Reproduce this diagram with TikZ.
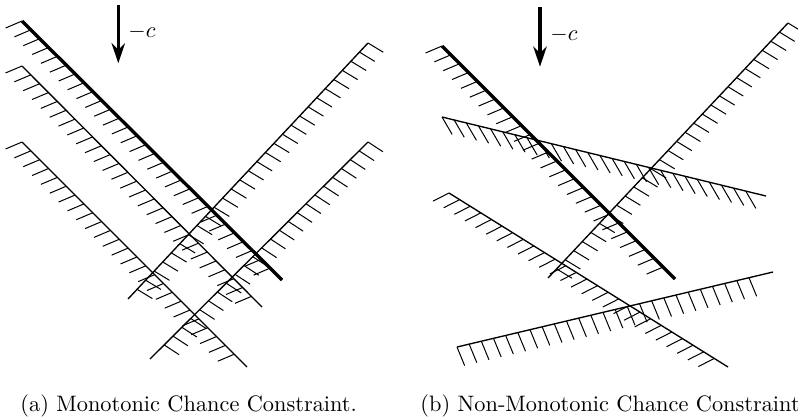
\documentclass[tikz,border=0pt]{standalone}
\usetikzlibrary{arrows.meta,decorations.pathreplacing}
\newcommand{\tkgap}{5.6pt}   % spacing of the hatch ticks along a bound

\begin{document}
\begin{tikzpicture}[x=0.4478pt, y=-0.4478pt,
  bnd/.style={line width=0.6pt},
  objline/.style={line width=1.5pt},
  hatch/.style 2 args={postaction={draw, line width=0.45pt, decorate,
      decoration={border, segment length=\tkgap, amplitude=#2, angle=#1}}},
  costdir/.style={line width=1.5pt, -{Stealth[length=9pt, width=6pt]}},
  lbl/.style={inner sep=0pt, anchor=base west},
  capt/.style={inner sep=0pt, anchor=base west}]
\useasboundingbox (0,0) rectangle (798,419);

% ================================================================== (a) monotonic
% parallel bounds hatched below-left, crossing bounds hatched below-right
\draw[bnd, hatch={-112}{8pt}] (22,66) -- (262,307);
\draw[bnd, hatch={-112}{8pt}] (22,142) -- (247,367);
\draw[bnd, hatch={102}{8pt}] (368,43) -- (128,299);
\draw[bnd, hatch={102}{8pt}] (368,142) -- (150,359);
% objective level line
\draw[objline, hatch={-112}{8pt}] (22,21) -- (282,280);
\coordinate (ca0) at (118.3,5);
\coordinate (ca1) at (118.3,63.3);
\draw[costdir] (ca0) -- (ca1);
\node[lbl] (la) at (128,37.3) {$-c$};
\node[capt] (capa) at (20,411.7) {(a) Monotonic Chance Constraint.};

% ================================================================== (b) non-monotonic
\draw[bnd, hatch={-46}{9pt}] (442,117) -- (766,196);
\draw[bnd, hatch={-121}{8pt}] (449,193) -- (728,367);
\draw[bnd, hatch={-81}{9pt}] (457,347) -- (773,272);
\draw[bnd, hatch={102}{8pt}] (788,23) -- (548,278);
% objective level line
\draw[objline, hatch={-112}{8pt}] (442,46) -- (675,279);
\coordinate (cb0) at (540,7.3);
\coordinate (cb1) at (540,66.7);
\draw[costdir] (cb0) -- (cb1);
\node[lbl] (lb) at (550,40) {$-c$};
\node[capt] (capb) at (420,411.7) {(b) Non-Monotonic Chance Constraint};
\end{tikzpicture}
\end{document}
